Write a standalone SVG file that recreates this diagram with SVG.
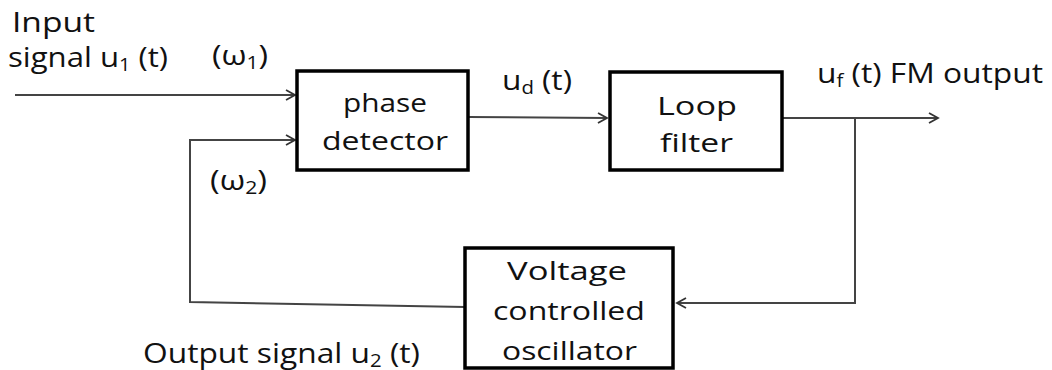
<svg xmlns="http://www.w3.org/2000/svg" width="1052" height="370" viewBox="0 0 1052 370">
<defs>
<style>
.box{fill:#fff;stroke:#000;stroke-width:3.5}
.ln{fill:none;stroke:#444;stroke-width:2}
.t{font-family:"Open Sans","DejaVu Sans",sans-serif;font-size:26px;fill:#111}
.l{font-size:28px}
.s{font-size:18px}
</style>
<marker id="ah" markerWidth="14" markerHeight="14" refX="11" refY="6" orient="auto" markerUnits="userSpaceOnUse" viewBox="0 0 14 12">
<path d="M2,1 L11,6 L2,11" fill="none" stroke="#333" stroke-width="1.8"/>
</marker>
</defs>
<rect width="1052" height="370" fill="#fff"/>
<g id="connectors">
<path class="ln" d="M15,95 L295,95" marker-end="url(#ah)"/>
<path class="ln" d="M465,307 L190,302 L190,140 L295,140" marker-end="url(#ah)"/>
<path class="ln" d="M468,117 L607,118" marker-end="url(#ah)"/>
<path class="ln" d="M782,118 L938,118" marker-end="url(#ah)"/>
<path class="ln" d="M855,118 L855,303 L677,303" marker-end="url(#ah)"/>
</g>
<g id="phase-detector">
<rect class="box" x="297" y="71" width="171" height="99"/>
<text class="t" x="343" y="112" textLength="84" lengthAdjust="spacingAndGlyphs">phase</text>
<text class="t" x="322" y="150" textLength="126" lengthAdjust="spacingAndGlyphs">detector</text>
</g>
<g id="loop-filter">
<rect class="box" x="610" y="72" width="172" height="98"/>
<text class="t" x="657" y="115" textLength="80" lengthAdjust="spacingAndGlyphs">Loop</text>
<text class="t" x="660" y="152" textLength="73" lengthAdjust="spacingAndGlyphs">filter</text>
</g>
<g id="vco">
<rect class="box" x="465" y="248" width="208" height="120"/>
<text class="t" x="507" y="280" textLength="120" lengthAdjust="spacingAndGlyphs">Voltage</text>
<text class="t" x="493" y="320" textLength="152" lengthAdjust="spacingAndGlyphs">controlled</text>
<text class="t" x="502" y="360" textLength="135" lengthAdjust="spacingAndGlyphs">oscillator</text>
</g>
<g id="labels">
<text class="t l" x="12" y="32" textLength="83" lengthAdjust="spacingAndGlyphs">Input</text>
<text class="t l" x="8" y="67" textLength="160" lengthAdjust="spacingAndGlyphs">signal u<tspan class="s" dy="4">1</tspan><tspan dy="-4"> (t)</tspan></text>
<text class="t l" x="212" y="65" textLength="56" lengthAdjust="spacingAndGlyphs">(ω<tspan class="s" dy="4">1</tspan><tspan dy="-4">)</tspan></text>
<text class="t l" x="210" y="190" textLength="57" lengthAdjust="spacingAndGlyphs">(ω<tspan class="s" dy="4">2</tspan><tspan dy="-4">)</tspan></text>
<text class="t l" x="502" y="90" textLength="70" lengthAdjust="spacingAndGlyphs">u<tspan class="s" dy="4">d</tspan><tspan dy="-4"> (t)</tspan></text>
<text class="t l" x="817" y="83" textLength="226" lengthAdjust="spacingAndGlyphs">u<tspan class="s" dy="4">f</tspan><tspan dy="-4"> (t) FM output</tspan></text>
<text class="t l" x="143" y="363" textLength="277" lengthAdjust="spacingAndGlyphs">Output signal u<tspan class="s" dy="4">2</tspan><tspan dy="-4"> (t)</tspan></text>
</g>
</svg>
